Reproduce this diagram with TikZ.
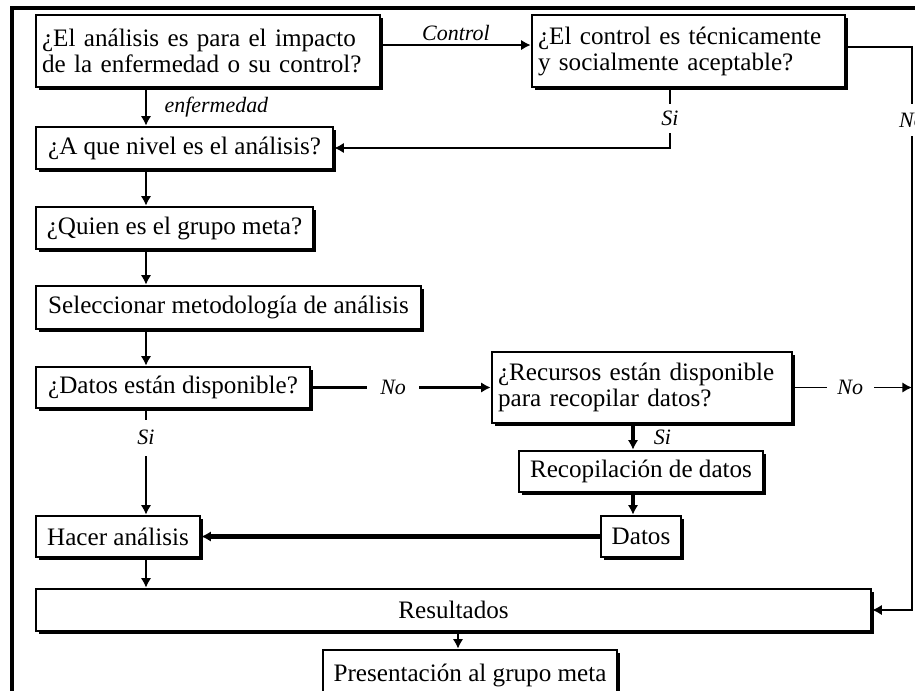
\documentclass[tikz,border=0pt]{standalone}
\usepackage{fontspec}
\setmainfont{Liberation Serif}
\usepackage{tikz}
\usetikzlibrary{arrows.meta,positioning,shadows}
\tikzstyle{stepbox} = [rectangle, draw, fill=white, line width=1.5pt, inner xsep=0.12cm, inner ysep=0pt, font=\fontsize{14.3}{14.8}\selectfont, drop shadow={fill=black, opacity=1, shadow xshift=1.6pt, shadow yshift=-1.6pt}]
\tikzstyle{qbox} = [stepbox, align=left]
\tikzstyle{arrow} = [line width=1.1pt, -{Latex[length=5.5pt,width=6pt]}]
\tikzstyle{answer} = [font=\fontsize{12.5}{13}\selectfont\itshape, inner sep=2pt]

\begin{document}
\begin{tikzpicture}[x=0.02cm, y=-0.02cm]
\useasboundingbox (0,0) rectangle (915,690);
% outer frame
\draw[line width=2.3pt] (12,700) -- (12,8) -- (930,8);

\node[qbox, text width=6.64cm, minimum height=1.44cm] (impact) at (208,51) {¿El análisis es para el impacto\\de la enfermedad o su control?};
\node[qbox, text width=6.02cm, minimum height=1.44cm] (accept) at (688.5,51) {¿El control es técnicamente\\y socialmente aceptable?};
\node[stepbox, minimum width=5.94cm, minimum height=0.84cm] (level) at (184.5,148) {¿A que nivel es el análisis?};
\node[stepbox, minimum width=5.54cm, minimum height=0.84cm] (target) at (174.5,228) {¿Quien es el grupo meta?};
\node[stepbox, minimum width=7.70cm, minimum height=0.86cm] (method) at (228.5,307.5) {Seleccionar metodología de análisis};
\node[stepbox, minimum width=5.48cm, minimum height=0.82cm] (avail) at (173,387.5) {¿Datos están disponible?};
\node[qbox, text width=5.76cm, minimum height=1.42cm] (resources) at (642,387.5) {¿Recursos están disponible\\para recopilar datos?};
\node[stepbox, minimum width=4.88cm, minimum height=0.82cm] (collect) at (641,471.5) {Recopilación de datos};
\node[stepbox, minimum width=1.60cm, minimum height=0.82cm] (data) at (641,536.5) {Datos};
\node[stepbox, minimum width=3.28cm, minimum height=0.82cm] (analysis) at (118,536.5) {Hacer análisis};
\node[stepbox, minimum width=16.70cm, minimum height=0.84cm] (results) at (453.5,610) {Resultados};
\node[stepbox, minimum width=5.88cm, minimum height=1.0cm] (present) at (470,675) {Presentación al grupo meta};

% line positions
\coordinate (spine) at (146,0);
\coordinate (yes) at (670,0);
\coordinate (datacol) at (633,0);
\coordinate (outcol) at (458,0);
\coordinate (rside) at (912,0);

\draw[arrow] ([yshift=3.4pt]impact.east) -- node[answer, above]{Control} ([yshift=3.4pt]accept.west);
\draw[arrow] (impact.south -| spine) -- node[answer, right=8pt]{enfermedad} (level.north -| spine);
\draw[arrow] (accept.south -| yes) -- node[answer, fill=white, inner ysep=4pt]{Si} (yes |- level.east) -- (level.east);
\draw[arrow, line width=1.5pt] ([yshift=2.3pt]accept.east) -- ([yshift=2.3pt]rside |- accept.east) -- node[answer, fill=white, pos=0.13, inner ysep=5pt]{No} (rside |- results.east) -- (results.east);

\draw[arrow] (level.south -| spine) -- (target.north -| spine);
\draw[arrow] (target.south -| spine) -- (method.north -| spine);
\draw[arrow] (method.south -| spine) -- (avail.north -| spine);
\draw[arrow] (avail.south -| spine) -- node[answer, fill=white, pos=0.27, inner ysep=6pt]{Si} (analysis.north -| spine);
\draw[arrow, line width=1.5pt] (avail.east) -- node[answer, fill=white, pos=0.456, inner xsep=7.5pt]{No} (resources.west);
\draw[arrow] (resources.east) -- node[answer, fill=white, pos=0.48, inner xsep=6pt]{No} (rside |- resources.east);

\draw[arrow, line width=1.8pt] (resources.south -| datacol) -- node[answer, right=9pt]{Si} (collect.north -| datacol);
\draw[arrow, line width=1.8pt] (collect.south -| datacol) -- (data.north -| datacol);
\draw[arrow, line width=2.8pt] (data.west) -- (analysis.east);
\draw[arrow] (analysis.south -| spine) -- (results.north -| spine);
\draw[arrow] (results.south -| outcol) -- (present.north -| outcol);
\end{tikzpicture}
\end{document}
